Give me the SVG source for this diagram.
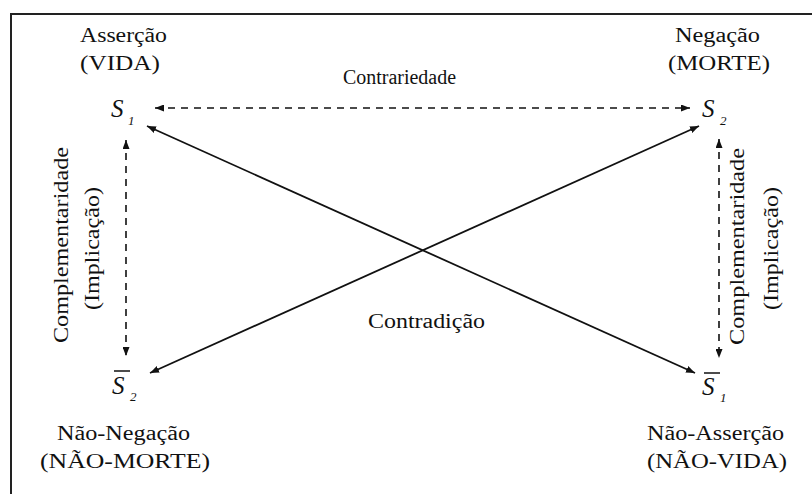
<svg xmlns="http://www.w3.org/2000/svg" width="812" height="494" viewBox="0 0 812 494">
<style>
.t{font-family:"Liberation Serif","Times New Roman",serif;font-size:20px;fill:#111}
.s{font-family:"Liberation Serif","Times New Roman",serif;font-size:25px;font-style:italic;fill:#111}
.sub{font-family:"Liberation Serif","Times New Roman",serif;font-size:13px;font-style:italic;fill:#111}
.solid{stroke:#111;stroke-width:1.8;fill:none}
.dash{stroke:#111;stroke-width:1.6;fill:none;stroke-dasharray:7 6}
.frame{stroke:#222;stroke-width:2;fill:none}
</style>
<defs>
<marker id="ah" viewBox="0 0 9 7" refX="9" refY="3.5" markerWidth="9" markerHeight="7" markerUnits="userSpaceOnUse" orient="auto-start-reverse">
<path d="M0,0 L9,3.5 L0,7 Z" fill="#111"/>
</marker>
</defs>
<rect width="812" height="494" fill="#fff"/>
<path class="frame" d="M812,14 H11 V494"/>

<g id="connectors">
<line class="dash" x1="155" y1="108" x2="690" y2="108" marker-start="url(#ah)" marker-end="url(#ah)"/>
<line class="solid" x1="147" y1="126" x2="695" y2="373" marker-start="url(#ah)" marker-end="url(#ah)"/>
<line class="solid" x1="699" y1="126" x2="150" y2="373" marker-start="url(#ah)" marker-end="url(#ah)"/>
<line class="dash" x1="126" y1="140" x2="126" y2="356" marker-start="url(#ah)" marker-end="url(#ah)"/>
<line class="dash" x1="719" y1="139" x2="719" y2="358" marker-start="url(#ah)" marker-end="url(#ah)"/>
<text class="t" x="343" y="84" textLength="113" lengthAdjust="spacingAndGlyphs">Contrariedade</text>
<text class="t" x="368" y="328" textLength="117" lengthAdjust="spacingAndGlyphs">Contradição</text>
<g id="label-left">
<text class="t" transform="translate(68,245) rotate(-90)" text-anchor="middle" textLength="196" lengthAdjust="spacingAndGlyphs">Complementaridade</text>
<text class="t" transform="translate(99,248.5) rotate(-90)" text-anchor="middle" textLength="123" lengthAdjust="spacingAndGlyphs">(Implicação)</text>
</g>
<g id="label-right">
<text class="t" transform="translate(744,246.5) rotate(-90)" text-anchor="middle" textLength="197" lengthAdjust="spacingAndGlyphs">Complementaridade</text>
<text class="t" transform="translate(778,248.5) rotate(-90)" text-anchor="middle" textLength="123" lengthAdjust="spacingAndGlyphs">(Implicação)</text>
</g>
</g>

<g id="node-s1">
<text class="t" x="80" y="42" textLength="87" lengthAdjust="spacingAndGlyphs">Asserção</text>
<text class="t" x="80" y="70" textLength="80" lengthAdjust="spacingAndGlyphs">(VIDA)</text>
<text class="s" x="111" y="117">S</text>
<text class="sub" x="128" y="125">1</text>
</g>

<g id="node-s2">
<text class="t" x="675" y="42" textLength="85" lengthAdjust="spacingAndGlyphs">Negação</text>
<text class="t" x="668" y="70" textLength="102" lengthAdjust="spacingAndGlyphs">(MORTE)</text>
<text class="s" x="702" y="117">S</text>
<text class="sub" x="720" y="125">2</text>
</g>

<g id="node-not-s2">
<line x1="114" y1="371" x2="130" y2="371" stroke="#111" stroke-width="1.5"/>
<text class="s" x="112" y="394">S</text>
<text class="sub" x="130" y="401">2</text>
<text class="t" x="57" y="440" textLength="133" lengthAdjust="spacingAndGlyphs">Não-Negação</text>
<text class="t" x="40" y="468" textLength="170" lengthAdjust="spacingAndGlyphs">(NÃO-MORTE)</text>
</g>

<g id="node-not-s1">
<line x1="704" y1="373" x2="720" y2="373" stroke="#111" stroke-width="1.5"/>
<text class="s" x="702" y="395">S</text>
<text class="sub" x="720" y="402">1</text>
<text class="t" x="647" y="440" textLength="137" lengthAdjust="spacingAndGlyphs">Não-Asserção</text>
<text class="t" x="647" y="468" textLength="140" lengthAdjust="spacingAndGlyphs">(NÃO-VIDA)</text>
</g>
</svg>
